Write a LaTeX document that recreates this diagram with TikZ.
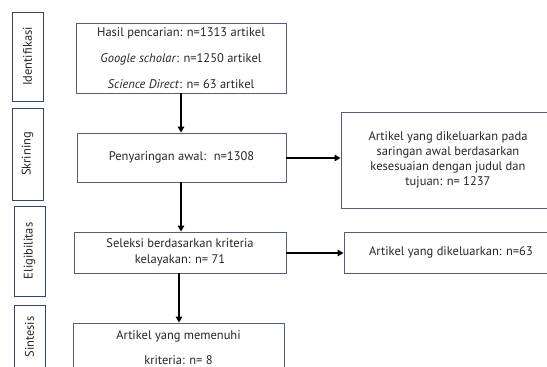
\documentclass[tikz,border=0pt]{standalone}
\usepackage{fontspec}
\setmainfont{PT Sans}
\usetikzlibrary{arrows.meta}
\definecolor{boxline}{HTML}{4F5F7C}
\definecolor{sideline}{HTML}{33456A}
\definecolor{txt}{HTML}{262626}
\begin{document}
\begin{tikzpicture}[x=1pt,y=-1pt,
  mainbox/.style={draw=boxline,line width=0.9pt,fill=white,align=center,text=txt,inner sep=0pt,
    font=\fontsize{12.5}{26}\selectfont},
  sidebox/.style={draw=sideline,line width=0.9pt,rotate=90,text=txt,inner sep=0pt,minimum height=31,
    font=\fontsize{12.5}{13}\selectfont},
  flow/.style={line width=2pt,-{Triangle[length=6pt,width=6.5pt]}}]
\useasboundingbox (0,0) rectangle (547,367);
% side labels
\node[sidebox,minimum width=89] (s1) at (27.5,56.5) {Identifikasi};
\node[sidebox,minimum width=92] (s2) at (27.5,154) {Skrining};
\node[sidebox,minimum width=90] (s3) at (29.5,251) {Eligibilitas};
\node[sidebox,minimum width=64] (s4) at (29.5,337) {Sintesis};
% main boxes
\node[mainbox,minimum width=210,minimum height=70] (b1) at (181,58)
  {Hasil pencarian: n=1313 artikel\\ \textit{Google scholar}: n=1250 artikel\\ \textit{Science Direct}: n= 63 artikel};
\node[mainbox,minimum width=209,minimum height=49] (b2) at (181.5,157.5) {Penyaringan awal:~ n=1308};
\node[mainbox,minimum width=212,minimum height=41,font=\fontsize{12.5}{16}\selectfont] (b3) at (180,252.5)
  {Seleksi berdasarkan kriteria\\ kelayakan: n= 71};
\node[mainbox,minimum width=211,minimum height=49,font=\fontsize{12.5}{25}\selectfont] (b4) at (178.5,347.5)
  {Artikel yang memenuhi\\ kriteria: n= 8};
% right boxes
\node[mainbox,minimum width=214,minimum height=96,font=\fontsize{12.5}{15}\selectfont] (r1) at (448,160)
  {Artikel yang dikeluarkan pada\\ saringan awal berdasarkan\\ kesesuaian dengan judul dan\\ tujuan: n= 1237};
\node[mainbox,minimum width=214,minimum height=41] (r2) at (451,252.5) {Artikel yang dikeluarkan: n=63};
% connectors
\draw[flow] (b1.south -| 181,0) -- (b2.north -| 181,0);
\draw[flow] (b2.south -| 181,0) -- (b3.north -| 181,0);
\draw[flow] (b3.south -| 179,0) -- (b4.north -| 179,0);
\draw[flow] (b2.east |- 0,158) -- (r1.west |- 0,158);
\draw[flow] (b3.east |- 0,253) -- (r2.west |- 0,253);
\end{tikzpicture}
\end{document}
